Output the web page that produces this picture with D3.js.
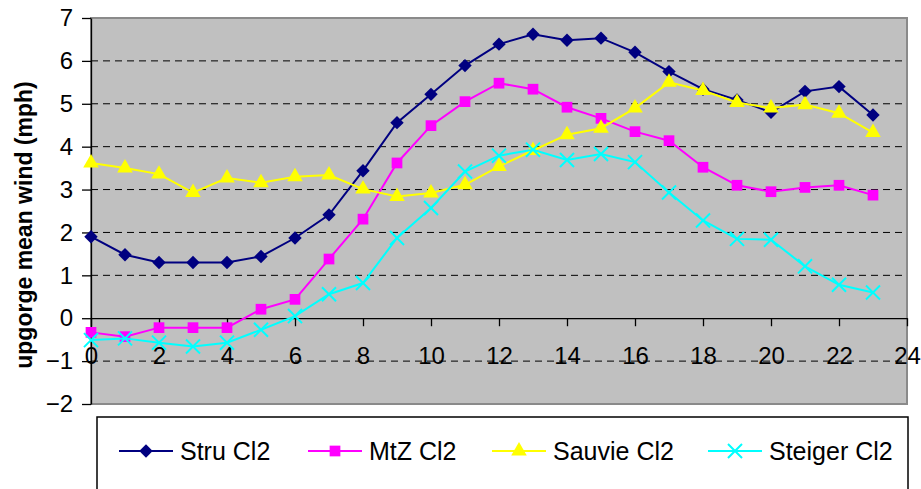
<!DOCTYPE html>
<html>
<head>
<meta charset="utf-8">
<script src="https://cdn.jsdelivr.net/npm/d3@7"></script>
<style>
    body { margin: 0; background: #fff; }
    text { font-family: Arial, "Liberation Sans", sans-serif; }
</style>
</head>
<body>
<div id="chart"></div>
<script>
const hours = [0, 1, 2, 3, 4, 5, 6, 7, 8, 9, 10, 11, 12, 13, 14, 15, 16, 17, 18, 19, 20, 21, 22, 23]
const stru = [1.90, 1.48, 1.30, 1.30, 1.30, 1.44, 1.87, 2.41, 3.44, 4.56, 5.22, 5.89, 6.39, 6.62, 6.48, 6.53, 6.20, 5.75, 5.34, 5.09, 4.80, 5.29, 5.40, 4.74]
const mtz = [-0.33, -0.43, -0.22, -0.22, -0.22, 0.21, 0.44, 1.38, 2.31, 3.62, 4.49, 5.05, 5.48, 5.34, 4.92, 4.66, 4.35, 4.14, 3.52, 3.10, 2.95, 3.05, 3.10, 2.87]
const sauvie = [3.62, 3.50, 3.36, 2.93, 3.27, 3.16, 3.30, 3.34, 3.01, 2.84, 2.92, 3.11, 3.54, 3.91, 4.28, 4.43, 4.90, 5.50, 5.31, 5.03, 4.90, 4.98, 4.78, 4.33]
const steiger = [-0.51, -0.47, -0.57, -0.66, -0.57, -0.27, 0.05, 0.56, 0.82, 1.87, 2.57, 3.42, 3.79, 3.93, 3.69, 3.83, 3.64, 2.93, 2.28, 1.85, 1.83, 1.21, 0.78, 0.60]
const seriesNames = ["Stru Cl2", "MtZ Cl2", "Sauvie Cl2", "Steiger Cl2"]
const xTicks = [0, 2, 4, 6, 8, 10, 12, 14, 16, 18, 20, 22, 24]
const yTicks = [-2, -1, 0, 1, 2, 3, 4, 5, 6, 7]
const yTitle = "upgorge mean wind (mph)"

const w = 921
const h = 489
const pLeft = 91, pRight = 907, pTop = 18, pBottom = 404

const series = [
    { name: seriesNames[0], values: stru, color: "#000080", symbol: "diamond" },
    { name: seriesNames[1], values: mtz, color: "#FF00FF", symbol: "square" },
    { name: seriesNames[2], values: sauvie, color: "#FFFF00", symbol: "triangle" },
    { name: seriesNames[3], values: steiger, color: "#00FFFF", symbol: "cross" }
]

const xScale = d3.scaleLinear().domain([0, 24]).range([pLeft, pRight])
const yScale = d3.scaleLinear().domain([-2, 7]).range([pBottom, pTop])

const svg = d3.select('#chart')
    .append('svg')
    .attr('width', w)
    .attr('height', h)

// plot background
svg.append('rect')
    .attr('x', pLeft)
    .attr('y', pTop)
    .attr('width', pRight - pLeft)
    .attr('height', pBottom - pTop)
    .attr('fill', '#C0C0C0')
    .attr('stroke', '#8a8a8a')
    .attr('stroke-width', 2)

// dashed gridlines
svg.append('g')
    .selectAll('line')
    .data(yTicks.filter(d => d !== 0 && d !== 7 && d !== -2))
    .enter()
    .append('line')
    .attr('x1', pLeft)
    .attr('x2', pRight)
    .attr('y1', d => yScale(d))
    .attr('y2', d => yScale(d))
    .attr('stroke', '#000')
    .attr('stroke-width', 1)
    .attr('stroke-dasharray', '7,5')

const xAxis = d3.axisBottom(xScale)
    .tickValues(xTicks)
    .tickSize(8)
    .tickSizeOuter(0)
    .tickPadding(21)
const yAxis = d3.axisLeft(yScale)
    .tickValues(yTicks)
    .tickSize(9)
    .tickSizeOuter(0)
    .tickPadding(9)

const gx = svg.append('g')
    .attr('transform', 'translate(0,' + yScale(0) + ')')
    .call(xAxis)
const gy = svg.append('g')
    .attr('transform', 'translate(' + pLeft + ',0)')
    .call(yAxis)

svg.selectAll('.tick text')
    .attr('font-size', 24)
    .attr('font-family', 'Arial, "Liberation Sans", sans-serif')
    .attr('fill', '#000')
svg.selectAll('.domain, .tick line').attr('stroke', '#000').attr('stroke-width', 1.3)

svg.append('text')
    .attr('transform', 'translate(32,225) rotate(-90)')
    .attr('text-anchor', 'middle')
    .attr('font-size', 23)
    .attr('font-weight', 'bold')
    .text(yTitle)

const symbolOf = {
    diamond: d3.symbol().type(d3.symbolSquare).size(90),
    square: d3.symbol().type(d3.symbolSquare).size(115),
    triangle: d3.symbol().type(d3.symbolTriangle).size(105),
    cross: d3.symbol().type(d3.symbolTimes).size(130)
}

const line = d3.line()
    .x((d, i) => xScale(hours[i]))
    .y(d => yScale(d))

const drawMarker = (g, s, x, y) => {
    const p = g.append('path')
        .attr('d', symbolOf[s.symbol]())
        .attr('transform', 'translate(' + x + ',' + y + ')' + (s.symbol === 'diamond' ? ' rotate(45)' : ''))
    if (s.symbol === 'cross') {
        p.attr('fill', 'none').attr('stroke', s.color).attr('stroke-width', 2)
    } else {
        p.attr('fill', s.color)
    }
}

series.forEach(s => {
    const g = svg.append('g')
    g.append('path')
        .datum(s.values)
        .attr('fill', 'none')
        .attr('stroke', s.color)
        .attr('stroke-width', 2)
        .attr('d', line)
    s.values.forEach((v, i) => drawMarker(g, s, xScale(hours[i]), yScale(v)))
})

// legend
const legend = svg.append('g').attr('id', 'legend')
legend.append('rect')
    .attr('x', 97)
    .attr('y', 417)
    .attr('width', 811)
    .attr('height', 120)
    .attr('fill', '#fff')
    .attr('stroke', '#000')
    .attr('stroke-width', 1.5)

const legX = [119, 308, 492, 708]
series.forEach((s, i) => {
    const g = legend.append('g')
    g.append('line')
        .attr('x1', legX[i])
        .attr('x2', legX[i] + 54)
        .attr('y1', 451)
        .attr('y2', 451)
        .attr('stroke', s.color)
        .attr('stroke-width', 2)
    drawMarker(g, s, legX[i] + 27, 451)
    g.append('text')
        .attr('x', legX[i] + 61)
        .attr('y', 460)
        .attr('font-size', 25)
        .text(s.name)
})
</script>
</body>
</html>
